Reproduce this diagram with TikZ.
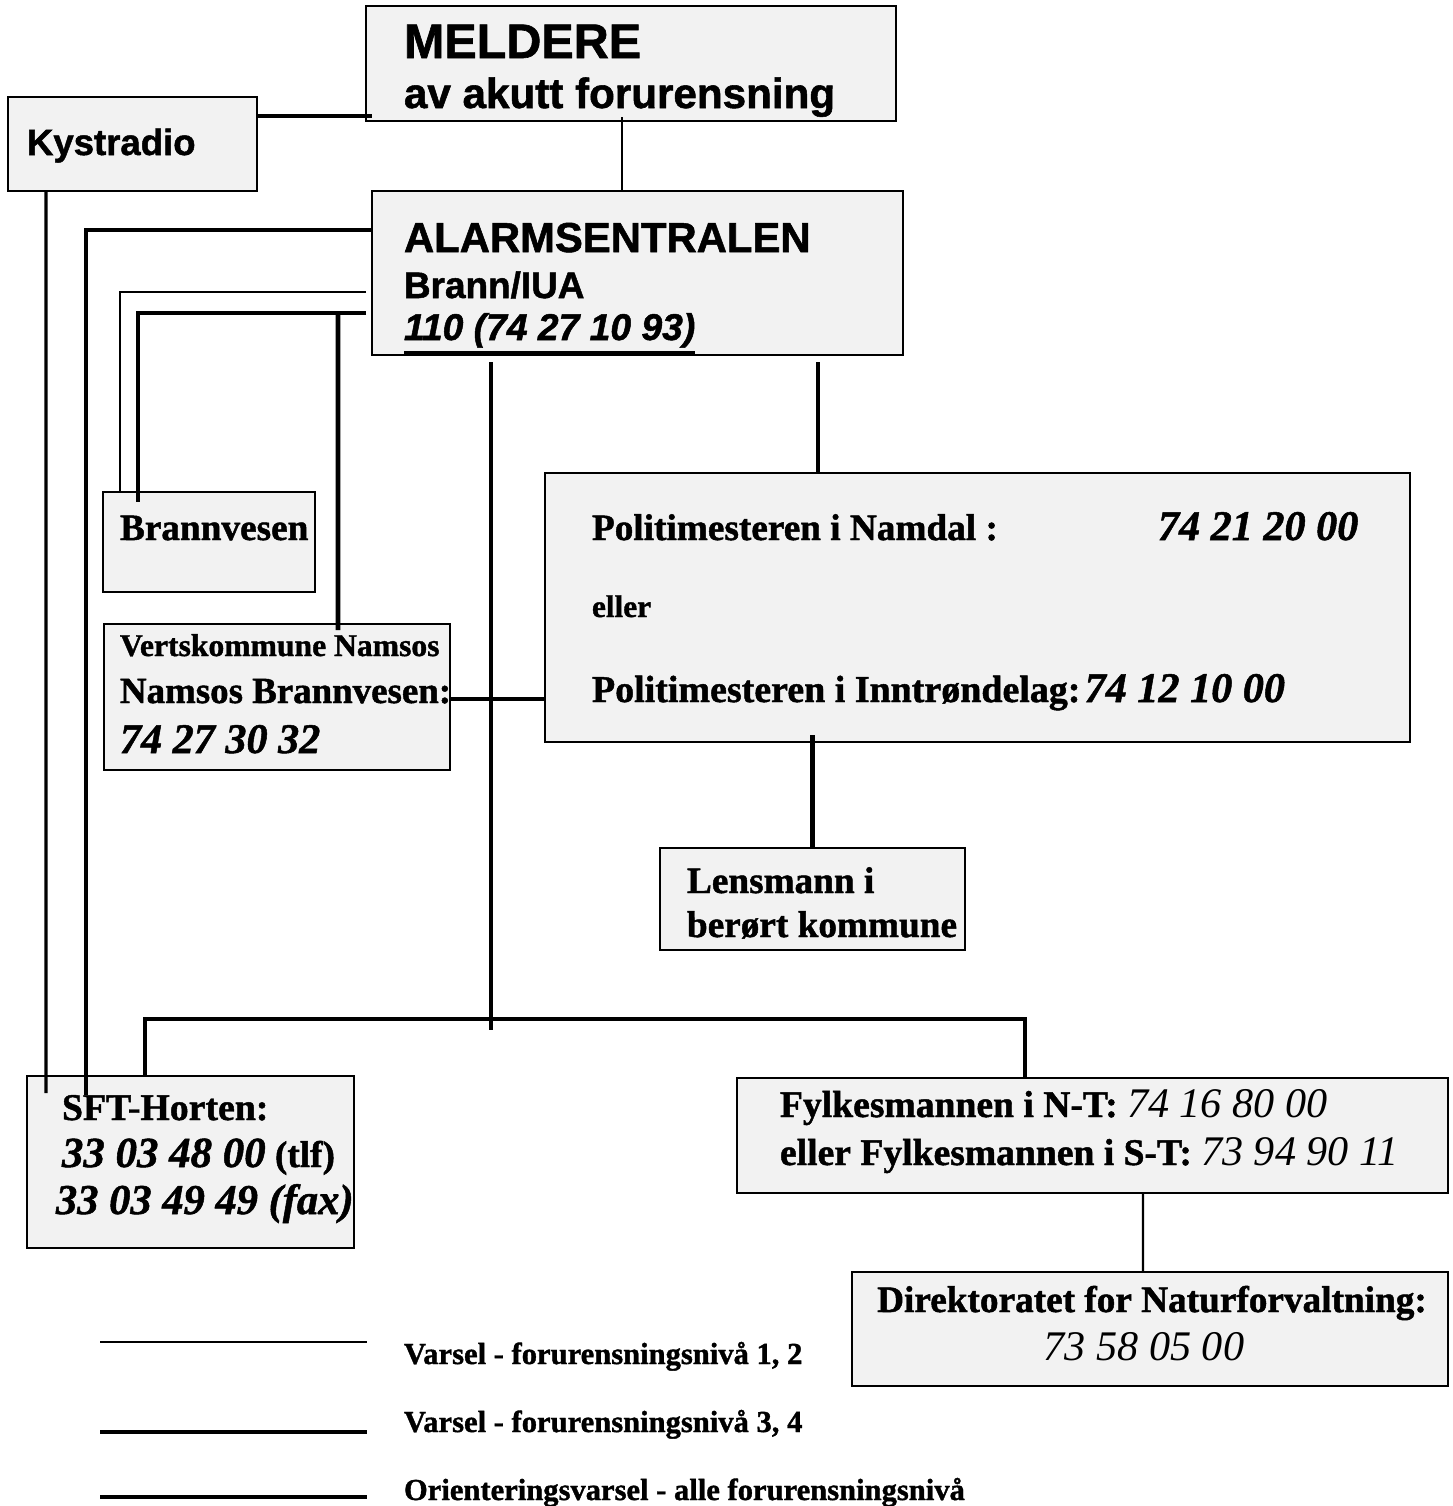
\documentclass[tikz,border=0pt]{standalone}
\usepackage{fontspec}
\setmainfont{Liberation Serif}[BoldFeatures={FakeBold=1.2}, BoldItalicFeatures={FakeBold=1.2}]
\newfontfamily\arialfont{Liberation Sans}[BoldFeatures={FakeBold=1.3}, BoldItalicFeatures={FakeBold=1.3}]
\newcommand{\fsz}[1]{\fontsize{#1}{#1}\selectfont}
\newcommand{\thickul}[1]{\leavevmode\vtop{\hbox{#1}\kern0.9pt\hrule height 0.9pt}}
\definecolor{boxgray}{RGB}{242,242,242}

\begin{document}
\begin{tikzpicture}
              \tikzstyle{every node}+=[inner sep=0pt, outer sep=0pt]
              \tikzstyle{box}=[draw=black, fill=boxgray, line width=0.6pt]
              \tikzstyle{txt}=[anchor=base west]
              \tikzstyle{lvlA}=[line width=0.6pt]
              \tikzstyle{lvlB}=[line width=0.9pt]
              \tikzstyle{orient}=[line width=1.4pt]
              \useasboundingbox (0,0) rectangle (14.53,-15.06);
              % boxes
              \node [box, minimum width=5.30cm, minimum height=1.15cm] (meld) at (6.31,-0.635) {};
              \node [box, minimum width=2.49cm, minimum height=0.94cm] (kyst) at (1.325,-1.44) {};
              \node [box, minimum width=5.31cm, minimum height=1.64cm] (alarm) at (6.375,-2.73) {};
              \node [box, minimum width=2.12cm, minimum height=1.00cm] (brann) at (2.09,-5.42) {};
              \node [box, minimum width=3.46cm, minimum height=1.46cm] (verts) at (2.77,-6.97) {};
              \node [box, minimum width=8.65cm, minimum height=2.69cm] (politi) at (9.775,-6.075) {};
              \node [box, minimum width=3.05cm, minimum height=1.02cm] (lens) at (8.125,-8.99) {};
              \node [box, minimum width=3.27cm, minimum height=1.72cm] (sft) at (1.905,-11.62) {};
              \node [box, minimum width=7.11cm, minimum height=1.15cm] (fylke) at (10.925,-11.355) {};
              \node [box, minimum width=5.96cm, minimum height=1.14cm] (dir) at (11.50,-13.29) {};
              % texts
              \node [txt, font=\arialfont\bfseries\fsz{13.8}] (meldA) at (4.04,-0.58) {MELDERE};
              \node [txt, font=\arialfont\bfseries\fsz{12}] (meldB) at (4.04,-1.08) {av akutt forurensning};
              \node [txt, font=\arialfont\bfseries\fsz{10.4}] (kystA) at (0.27,-1.55) {Kystradio};
              \node [txt, font=\arialfont\bfseries\fsz{11.9}] (alarmA) at (4.04,-2.52) {ALARMSENTRALEN};
              \node [txt, font=\arialfont\bfseries\fsz{10.5}] (alarmB) at (4.04,-2.98) {Brann/IUA};
              \node [txt, font=\arialfont\bfseries\itshape\fsz{10.6}] (alarmC) at (4.04,-3.40) {\thickul{110 (74 27 10 93)}};
              \node [txt, font=\bfseries\fsz{10.6}] (brannA) at (1.20,-5.40) {Brannvesen};
              \node [txt, font=\bfseries\fsz{9.0}] (vertsA) at (1.20,-6.56) {Vertskommune Namsos};
              \node [txt, font=\bfseries\fsz{10.5}] (vertsB) at (1.20,-7.03) {Namsos Brannvesen:};
              \node [txt, font=\bfseries\itshape\fsz{12}] (vertsC) at (1.20,-7.53) {74 27 30 32};
              \node [txt, font=\bfseries\fsz{10.6}] (politiA) at (5.92,-5.40) {Politimesteren i Namdal :};
              \node [txt, font=\bfseries\itshape\fsz{12}] (politiNr) at (11.58,-5.40) {74 21 20 00};
              \node [txt, font=\bfseries\fsz{8.9}] (politiB) at (5.92,-6.17) {eller};
              \node [txt, font=\bfseries\fsz{10.8}] (politiC) at (5.92,-7.02) {Politimesteren i Inntrøndelag:\kern1.2pt{\itshape\fsz{12}74 12 10 00}};
              \node [txt, font=\bfseries\fsz{10.6}] (lensA) at (6.87,-8.93) {Lensmann i};
              \node [txt, font=\bfseries\fsz{10.6}] (lensB) at (6.87,-9.37) {berørt kommune};
              \node [txt, font=\bfseries\fsz{10.75}] (sftA) at (0.62,-11.20) {SFT-Horten:};
              \node [txt, font=\bfseries\fsz{10.6}] (sftB) at (0.62,-11.67) {{\itshape\fsz{12.2}33 03 48 00} (tlf)};
              \node [txt, font=\bfseries\itshape\fsz{12.1}] (sftC) at (0.56,-12.14) {33 03 49 49 (fax)};
              \node [txt, font=\bfseries\fsz{10.7}] (fylkeA) at (7.80,-11.17) {Fylkesmannen i N-T: {\mdseries\itshape\fsz{12}74 16 80 00}};
              \node [txt, font=\bfseries\fsz{10.7}] (fylkeB) at (7.80,-11.65) {eller Fylkesmannen i S-T: {\mdseries\itshape\fsz{12}73 94 90 11}};
              \node [anchor=base, font=\bfseries\fsz{10.6}] (dirA) at (11.52,-13.12) {Direktoratet for Naturforvaltning:};
              \node [anchor=base, font=\itshape\fsz{12}] (dirB) at (11.44,-13.60) {73 58 05 00};
              % connectors
              \draw [lvlB] ([yshift=0.28cm]kyst.east) -- ++(1.15,0);
              \draw [lvlA] ([xshift=-0.155cm]alarm.north) -- ++(0,0.74);
              \draw [lvlB] ([xshift=-0.865cm]kyst.south) -- ([xshift=0.19cm,yshift=-0.17cm]sft.north west);
              \draw [lvlB] ([yshift=0.43cm]alarm.west) -| ([xshift=0.59cm,yshift=-0.19cm]sft.north west);
              \draw [lvlA] ([xshift=-0.06cm,yshift=-0.19cm]alarm.west) -| ([xshift=0.17cm]brann.north west);
              \draw [lvlB] ([xshift=-0.06cm,yshift=-0.40cm]alarm.west) -| ([xshift=0.35cm,yshift=-0.10cm]brann.north west);
              \coordinate (vjoin) at (3.38,-3.13);
              \draw [orient] (vjoin) -- ([xshift=0.61cm,yshift=-0.06cm]verts.north);
              \coordinate (spine) at ([xshift=-1.465cm,yshift=-0.07cm]alarm.south);
              \draw [orient] (spine) -- ++(0,-6.68);
              \draw [orient] ([xshift=-1.595cm]politi.north) -- ++(0,1.11);
              \coordinate (namsos) at ([yshift=-0.02cm]verts.east);
              \draw [orient] (namsos) -- (politi.west |- namsos);
              \draw [orient] (lens.north) -- ++(0,1.13);
              \draw [orient] ([xshift=-0.455cm]sft.north) -- ++(0,0.57) -| ([xshift=-0.675cm]fylke.north);
              \draw [lvlA] ([xshift=0.505cm]fylke.south) -- ([xshift=-0.07cm]dir.north);
              % legend
              \draw [lvlA] (1.00,-13.42) -- (3.67,-13.42);
              \draw [lvlB] (1.00,-14.32) -- (3.67,-14.32);
              \draw [orient] (1.00,-14.97) -- (3.67,-14.97);
              \node [txt, font=\bfseries\fsz{8.7}] (legA) at (4.04,-13.64) {Varsel - forurensningsnivå 1, 2};
              \node [txt, font=\bfseries\fsz{8.7}] (legB) at (4.04,-14.32) {Varsel - forurensningsnivå 3, 4};
              \node [txt, font=\bfseries\fsz{8.7}] (legC) at (4.04,-15.00) {Orienteringsvarsel - alle forurensningsnivå};
            \end{tikzpicture}
\end{document}
